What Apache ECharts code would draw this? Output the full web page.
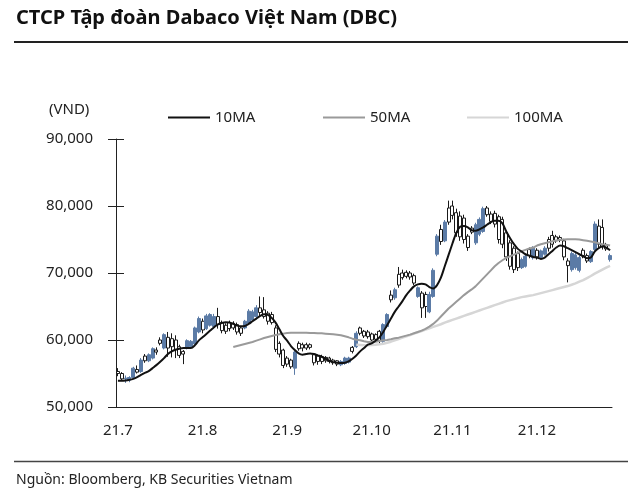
<!DOCTYPE html>
<html><head><meta charset="utf-8">
<script src="https://cdn.jsdelivr.net/npm/echarts@6/dist/echarts.min.js"></script>
<style>html,body{margin:0;padding:0;background:#fff}#c{width:640px;height:498px}</style>
</head><body><div id="c"></div>
<script>
// Trading days (weekdays) 2021-07-01 .. 2021-12-28
const dates = [];
for (let d = new Date(Date.UTC(2021, 6, 1)); d <= new Date(Date.UTC(2021, 11, 28)); d.setUTCDate(d.getUTCDate() + 1)) {
  const w = d.getUTCDay();
  if (w !== 0 && w !== 6) dates.push(d.toISOString().slice(0, 10));
}
const monthLabels = ['21.7', '21.8', '21.9', '21.10', '21.11', '21.12'];
const yTicks = [50000, 60000, 70000, 80000, 90000];

const openP = [
  55300,55000,54200,54000,54400,55600,55300,57600,56900,57300,58500,60000,58800,60400,60200,60000,59000,58300,58800,59000,59400,61200,
  62800,61700,62200,62000,63500,62600,62200,62600,62500,62300,61800,61800,62500,63000,63500,64800,64500,64000,63800,61800,59500,58500,
  57300,57000,55800,59500,59300,59300,59300,57800,57600,57500,57400,57300,57000,56900,56300,56500,56700,58900,59000,61800,61300,61200,
  60900,60800,61300,59800,62000,66700,66300,69800,70000,70100,70000,69600,66500,67000,66800,64200,66500,72800,76500,74800,79700,
  80000,79000,78500,78200,75500,76700,74500,75800,76200,79700,78800,78900,78400,78000,76000,74500,73700,72900,70800,71000,73500,72300,
  73400,72300,72800,75000,75600,75400,75300,74800,71800,70500,70800,70400,73400,72600,71700,73500,77000,76800,74200,72000
];
const highP = [
  55800,55200,54700,54600,56000,56200,57300,57900,58000,58900,58900,60400,61000,61200,61000,60700,59300,58500,60100,60000,62000,63500,
  63200,63900,64000,63900,64800,62900,62500,62900,62800,62600,62000,63000,64600,64500,65200,66500,66400,64300,64200,62200,59800,58700,
  57600,57200,58400,59800,59600,59600,59500,58000,57800,57800,57600,57500,57200,57000,57000,57500,57500,59100,61300,62000,61500,61500,
  61100,61000,61500,62500,64000,67400,67800,70900,70500,70400,70300,69900,68000,67300,67200,67200,70700,75800,77200,77900,80800,
  80800,79600,79200,78700,75800,77000,77500,78300,79900,80000,79200,79300,78700,78400,76300,74900,74000,73200,72300,72800,73800,74000,
  73700,73500,74000,75400,76300,75700,75600,75100,72200,73200,73000,72600,73700,72900,73400,77700,78000,78000,74500,72900
];
const lowP = [
  54600,53900,53600,53700,54200,55000,55100,56600,56700,57100,57800,59200,58600,57500,57400,57300,57300,56400,58600,58900,59200,61000,
  61000,61500,62000,61800,61700,61000,60900,61300,61500,60800,60600,61600,62300,62800,63200,63600,63200,62300,62300,58200,57400,55800,
  56000,55700,54800,58400,58300,58500,58600,56200,56300,56400,56600,56500,56300,56100,56100,56300,56500,58000,58800,60700,60300,60200,
  59700,59800,59500,59600,61800,65600,66000,67800,69000,69200,69000,68200,66300,63300,63300,64000,66300,72500,74200,74600,77200,
  78000,75400,74800,74400,73300,75800,74200,75500,76000,78400,77300,76800,74400,73700,71800,70500,70000,70300,70600,70800,72200,72000,
  72000,72100,72600,73200,73800,74500,74600,71900,68600,70200,70500,70100,72200,71500,71500,73300,73800,73500,73300,71700
];
const closeP = [
  55000,54200,54300,54400,55800,55200,57000,56900,57800,58700,58200,59500,60800,58800,59000,58600,57700,57900,59900,59800,61800,63200,
  61500,63600,63800,63500,62300,61400,61300,61700,61800,61200,61000,62800,64300,64200,64800,64100,63500,62800,62600,58600,57900,56200,
  56400,56000,58200,58700,58800,58800,58900,56600,56800,56800,56900,56800,56600,56400,56800,57300,57300,58300,61000,61000,60600,60500,
  60000,60100,59900,62300,63800,66000,67500,68200,69300,69500,69400,68500,67800,64800,65000,66800,70400,75500,74700,77600,77600,
  78600,76000,75400,75000,73800,76100,77200,78000,79600,78700,77700,77300,75000,74300,72400,71000,70500,70800,72000,72500,72600,73700,
  72400,73300,73700,73700,74300,74800,74900,72400,71100,72900,72700,72300,72600,71800,73200,77300,74300,73900,73600,72600
];
const ma10 = [
  53900,53900,53950,54050,54200,54450,54800,55100,55350,55800,56250,56750,57300,57900,58300,58550,58700,58800,58800,58800,59200,59900,
  60400,60900,61400,61900,62350,62550,62650,62600,62400,62150,62050,62100,62400,62800,63200,63600,63850,63750,63300,62600,61600,60600,
  59900,59100,58500,58000,57800,57900,58000,57900,57700,57500,57200,56900,56700,56600,56550,56600,56800,57200,57700,58300,58800,59300,
  59500,59900,60400,61200,62200,63200,64200,65000,65800,66700,67400,68000,68300,68400,68300,67900,67700,68200,69300,71000,72700,
  74400,76000,76900,77000,76800,76400,76300,76500,76800,77200,77600,77800,77800,77400,76200,75200,74300,73600,73200,72800,72600,72400,
  72300,72100,72300,72800,73300,73800,74100,74000,73700,73400,73100,72800,72500,72200,72300,73200,73700,74000,73800,73400
];
const ma50 = [
  null,null,null,null,null,null,null,null,null,null,null,null,null,null,null,null,null,null,null,null,null,null,
  null,null,null,null,null,null,null,null,58950,59100,59250,59400,59550,59700,59900,60100,60300,60450,60600,60750,60850,60950,
  61050,61100,61100,61100,61100,61100,61050,61050,61000,61000,60950,60900,60850,60800,60700,60550,60400,60200,60050,59950,59800,59700,
  59700,59750,59850,59950,60000,60100,60250,60350,60500,60650,60800,61000,61200,61400,61650,62000,62400,62900,63500,64100,64700,
  65200,65700,66200,66700,67150,67550,68000,68600,69200,69800,70400,71000,71500,71900,72250,72500,72750,73000,73250,73450,73650,73800,
  74100,74300,74450,74600,74750,74850,74950,75000,75050,75050,75050,75000,74900,74800,74700,74600,74450,74300,74200,74100
];
const ma100 = [
  null,null,null,null,null,null,null,null,null,null,null,null,null,null,null,null,null,null,null,null,null,null,
  null,null,null,null,null,null,null,null,null,null,null,null,null,null,null,null,null,null,null,null,null,null,
  null,null,null,null,null,null,null,null,null,null,null,null,null,null,null,null,null,null,59300,59250,59200,59200,
  59250,59300,59350,59450,59600,59750,59950,60150,60350,60550,60750,60950,61150,61350,61550,61750,61950,62150,62350,62600,62800,
  63000,63200,63400,63600,63800,64000,64200,64400,64600,64800,65000,65200,65400,65600,65800,65950,66100,66250,66400,66500,66600,66700,
  66850,67000,67150,67300,67450,67600,67750,67900,68050,68250,68450,68700,68950,69250,69550,69900,70200,70500,70800,71050
];

const candles = openP.map((o, i) => [o, closeP[i], lowP[i], highP[i]]);
const monthStart = {};
let k = 0;
dates.forEach((d, i) => { if (i === 0 || d.slice(5, 7) !== dates[i - 1].slice(5, 7)) { monthStart[i] = monthLabels[k++]; } });

const FONT = 'Noto Sans';
const TXT = '#222';
const chart = echarts.init(document.getElementById('c'), null, { renderer: 'canvas' });
const legendBase = { top: 105, itemWidth: 42, itemHeight: 14, textStyle: { fontFamily: FONT, fontSize: 15, color: TXT }, icon: 'path://M0,6L42,6L42,8L0,8Z' };
chart.setOption({
  animation: false,
  backgroundColor: '#fff',
  title: [
    { text: 'CTCP Tập đoàn Dabaco Việt Nam (DBC)', left: 11, top: 3, textStyle: { fontFamily: FONT, fontSize: 20, fontWeight: 'bold', color: '#111' } },
    { text: '(VND)', left: 44, top: 97, textStyle: { fontFamily: FONT, fontSize: 15, fontWeight: 'normal', color: TXT } },
    { text: 'Nguồn: Bloomberg, KB Securities Vietnam', left: 11, top: 468, textStyle: { fontFamily: FONT, fontSize: 14, fontWeight: 'normal', color: TXT } }
  ],
  graphic: [
    { type: 'line', shape: { x1: 14, y1: 42, x2: 628, y2: 42 }, style: { stroke: '#222', lineWidth: 2 } },
    { type: 'line', shape: { x1: 14, y1: 461.5, x2: 628, y2: 461.5 }, style: { stroke: '#444', lineWidth: 1.5 } }
  ],
  legend: [
    Object.assign({ left: 163, data: [{ name: '10MA', itemStyle: { color: '#111' } }] }, legendBase),
    Object.assign({ left: 318, data: [{ name: '50MA', itemStyle: { color: '#9a9a9a' } }] }, legendBase),
    Object.assign({ left: 462, data: [{ name: '100MA', itemStyle: { color: '#d6d6d6' } }] }, legendBase)
  ],
  grid: { left: 116, right: 28, top: 139, bottom: 91 },
  xAxis: {
    type: 'category', data: dates, boundaryGap: true,
    axisLine: { lineStyle: { color: '#222', width: 1 } },
    axisTick: { inside: true, length: 6, lineStyle: { color: '#222' }, interval: (i) => monthStart[i] !== undefined },
    axisLabel: { interval: (i) => monthStart[i] !== undefined, formatter: (v, i) => monthStart[i] || '', fontFamily: FONT, fontSize: 15, color: TXT, margin: 16 },
    splitLine: { show: false }
  },
  yAxis: [
    { type: 'value', min: yTicks[0], max: yTicks[yTicks.length - 1], interval: 10000,
      axisLine: { show: true, lineStyle: { color: '#222' } },
      axisTick: { show: true, length: 8, lineStyle: { color: '#222' } },
      axisLabel: { fontFamily: FONT, fontSize: 15, color: TXT, margin: 23, formatter: (v) => v.toLocaleString('en-US') },
      splitLine: { show: false } },
    { type: 'value', min: yTicks[0], max: yTicks[yTicks.length - 1], interval: 10000,
      axisLine: { show: false }, axisTick: { show: true, inside: true, length: 8, lineStyle: { color: '#222' } },
      axisLabel: { show: false }, splitLine: { show: false }, position: 'left' }
  ],
  series: [
    { type: 'candlestick', data: candles, barWidth: 3.5, z: 2,
      itemStyle: { color: '#5b7ba6', color0: '#ffffff', borderColor: '#5b7ba6', borderColor0: '#1a1a1a', borderWidth: 1 } },
    { name: '100MA', type: 'line', data: ma100, symbol: 'none', z: 3, lineStyle: { color: '#d6d6d6', width: 2.5 }, itemStyle: { color: '#d6d6d6' } },
    { name: '50MA', type: 'line', data: ma50, symbol: 'none', z: 4, lineStyle: { color: '#9a9a9a', width: 2 }, itemStyle: { color: '#9a9a9a' } },
    { name: '10MA', type: 'line', data: ma10, symbol: 'none', smooth: 0.3, z: 5, lineStyle: { color: '#111', width: 2 }, itemStyle: { color: '#111' } }
  ]
});
</script></body></html>
